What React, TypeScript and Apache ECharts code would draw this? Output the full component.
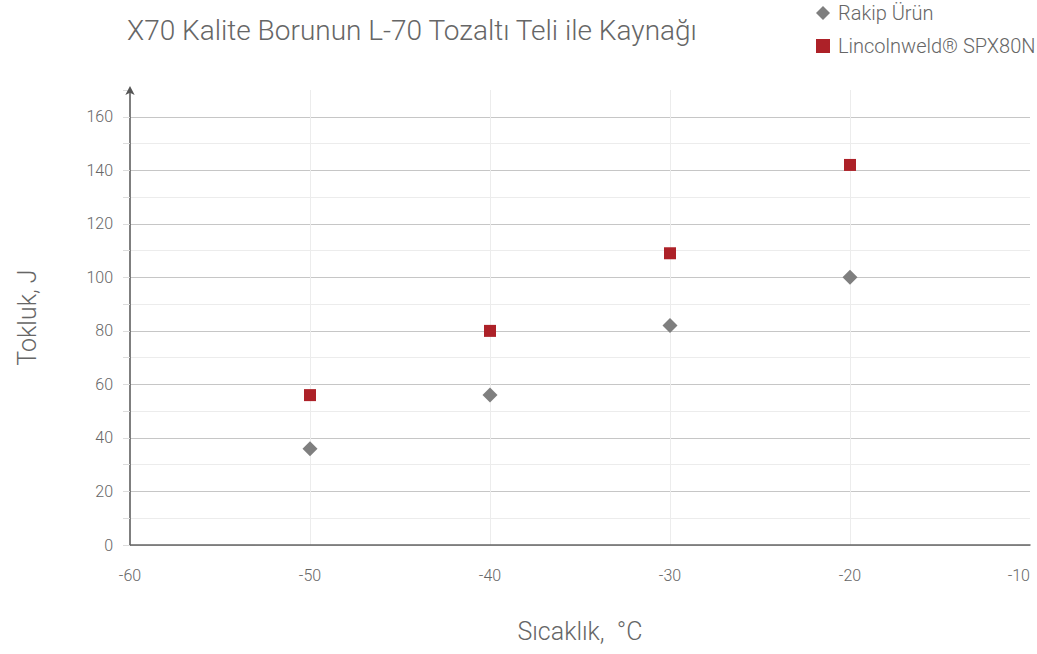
import React, { useEffect, useRef } from "react";
import * as echarts from "echarts";

const titleText = "X70 Kalite Borunun L-70 Tozaltı Teli ile Kaynağı";
const xAxisName = "Sıcaklık,  °C";
const yAxisName = "Tokluk, J";
const seriesNames = ["Rakip Ürün", "Lincolnweld® SPX80N"];
const temperatures = [-50, -40, -30, -20];
const rakipValues = [36, 56, 82, 100];
const lincolnValues = [56, 80, 109, 142];
const xMin = -60;
const xMax = -10;
const yMin = 0;
const yMax = 170;

const FONT = "Roboto";

export default function App() {
  const ref = useRef<HTMLDivElement>(null);
  useEffect(() => {
    if (!ref.current) return;
    const chart = echarts.init(ref.current, undefined, { renderer: "svg" });
    const yTickCount = (yMax - yMin) / 10 + 1;
    const ySplitColors: string[] = [];
    for (let i = 0; i < yTickCount; i++) {
      const v = yMin + i * 10;
      if (v === yMax) ySplitColors.push("rgba(0,0,0,0)");
      else ySplitColors.push(v % 20 === 0 ? "#c6c6c6" : "#ececec");
    }
    const xSplitColors: string[] = [];
    for (let v = xMin; v <= xMax; v += 10) {
      xSplitColors.push(v === xMin || v === xMax ? "rgba(0,0,0,0)" : "#ececec");
    }
    chart.setOption({
      animation: false,
      backgroundColor: "#ffffff",
      textStyle: { fontFamily: FONT },
      title: {
        text: titleText,
        left: 122,
        top: 11,
        textStyle: { fontFamily: FONT, fontWeight: 300, fontSize: 28, color: "#666666" },
      },
      legend: {
        orient: "vertical",
        left: 811,
        top: -2,
        itemGap: 13,
        itemWidth: 14,
        itemHeight: 14,
        textStyle: { fontFamily: FONT, fontWeight: 300, fontSize: 20, color: "#666666", padding: [0, 0, 0, 3] },
        data: [
          { name: seriesNames[0], icon: "diamond" },
          { name: seriesNames[1], icon: "rect" },
        ],
      },
      grid: { left: 130, right: 7, top: 90, bottom: 109, outerBoundsMode: "none" },
      xAxis: {
        type: "value",
        min: xMin,
        max: xMax,
        interval: 10,
        name: xAxisName,
        nameLocation: "middle",
        nameGap: 74,
        nameTextStyle: { fontFamily: FONT, fontWeight: 300, fontSize: 25, color: "#666666" },
        axisLine: { show: true, lineStyle: { color: "#666666", width: 1.5 } },
        axisTick: { show: false },
        axisLabel: {
          fontFamily: FONT,
          fontWeight: 300,
          fontSize: 16,
          color: "#666666",
          margin: 22,
          alignMaxLabel: "right",
        },
        splitLine: { show: true, lineStyle: { color: xSplitColors, width: 1 } },
      },
      yAxis: {
        type: "value",
        min: yMin,
        max: yMax,
        interval: 10,
        name: yAxisName,
        nameLocation: "middle",
        nameGap: 90,
        nameTextStyle: { fontFamily: FONT, fontWeight: 300, fontSize: 25, color: "#666666" },
        axisLine: {
          show: true,
          symbol: ["none", "arrow"],
          symbolSize: [7, 9],
          symbolOffset: [0, 4],
          lineStyle: { color: "#555555", width: 1.5 },
        },
        axisTick: { show: true, length: 7, lineStyle: { color: "#dcdcdc" } },
        axisLabel: {
          fontFamily: FONT,
          fontWeight: 300,
          fontSize: 16,
          color: "#666666",
          margin: 17,
          formatter: (v: number) => (v % 20 === 0 && v !== yMax ? String(v) : ""),
        },
        splitLine: { show: true, lineStyle: { color: ySplitColors, width: 1 } },
      },
      series: [
        {
          name: seriesNames[0],
          type: "scatter",
          symbol: "diamond",
          symbolSize: 15,
          itemStyle: { color: "#7f7f7f", opacity: 1 },
          data: temperatures.map((t, i) => [t, rakipValues[i]]),
        },
        {
          name: seriesNames[1],
          type: "scatter",
          symbol: "rect",
          symbolSize: 12,
          itemStyle: { color: "#ad2128", opacity: 1 },
          data: temperatures.map((t, i) => [t, lincolnValues[i]]),
        },
      ],
    });
    return () => chart.dispose();
  }, []);
  return (
    <div
      ref={ref}
      style={{ position: "absolute", left: 0, top: 0, width: 1037, height: 654 }}
    />
  );
}
